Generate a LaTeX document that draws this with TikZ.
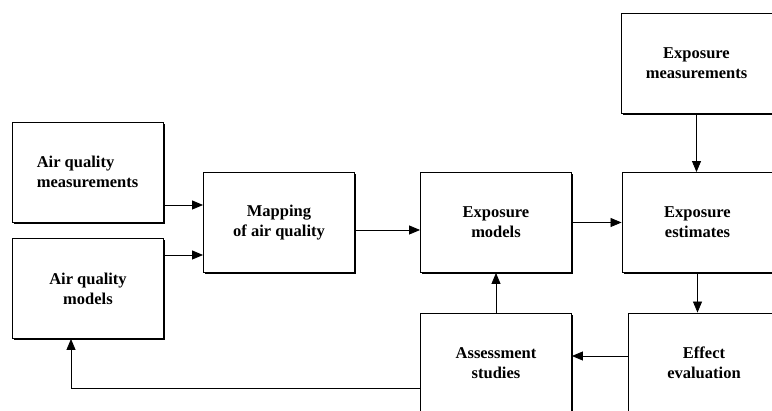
\documentclass[tikz,border=0pt]{standalone}
\usepackage{fontspec}
\setmainfont{Liberation Serif}
\usetikzlibrary{arrows.meta,shadows}

\begin{document}
\begin{tikzpicture}[x=1pt,y=-1pt,
        block/.style={draw,fill=white,line width=0.9pt,minimum width=151pt,minimum height=100pt,
            align=center,font=\fontsize{16.5}{20}\selectfont\bfseries,
            drop shadow={shadow xshift=1.8pt,shadow yshift=-1.8pt,fill=black,opacity=1}},
        arr/.style={-{Triangle[length=11pt,width=9pt]},line width=0.8pt}]
        \clip (0,0) rectangle (772,411);
        %\fill[white] (0,0) rectangle (772,411);
        \node[block,align=left] (aqmeas) at (87.5,172) {Air quality\\measurements};
        \node[block] (aqmod) at (88,288.5) {Air quality\\models};
        \node[block] (map) at (279,222.5) {Mapping\\of air quality};
        \node[block] (expmod) at (496,222.5) {Exposure\\models};
        \node[block] (expest) at (697.5,222.5) {Exposure\\estimates};
        \node[block] (expmeas) at (696.5,63) {Exposure\\measurements};
        \node[block] (assess) at (496,363) {Assessment\\studies};
        \node[block] (effect) at (704,363) {Effect\\evaluation};
        \draw[arr] ([yshift=17.5]map.west -| aqmeas.east) -- ([yshift=17.5]map.west);
        \draw[arr] ([yshift=-32.5]map.west -| aqmod.east) -- ([yshift=-32.5]map.west);
        \draw[arr] ([yshift=-7.5]map.east) -- ([yshift=-7.5]map.east -| expmod.west);
        \draw[arr] (expmod) -- (expest);
        \draw[arr] (expmeas.south) -- (expmeas.south |- expest.north);
        \draw[arr] (expest.south) -- (expest.south |- effect.north);
        \draw[arr] ([yshift=7]effect.west) -- ([yshift=7]effect.west -| assess.east);
        \draw[arr] (assess.north) -- (expmod.south);
        \draw[arr] ([yshift=-25]assess.west) -| ([xshift=-17]aqmod.south);
    \end{tikzpicture}
\end{document}
